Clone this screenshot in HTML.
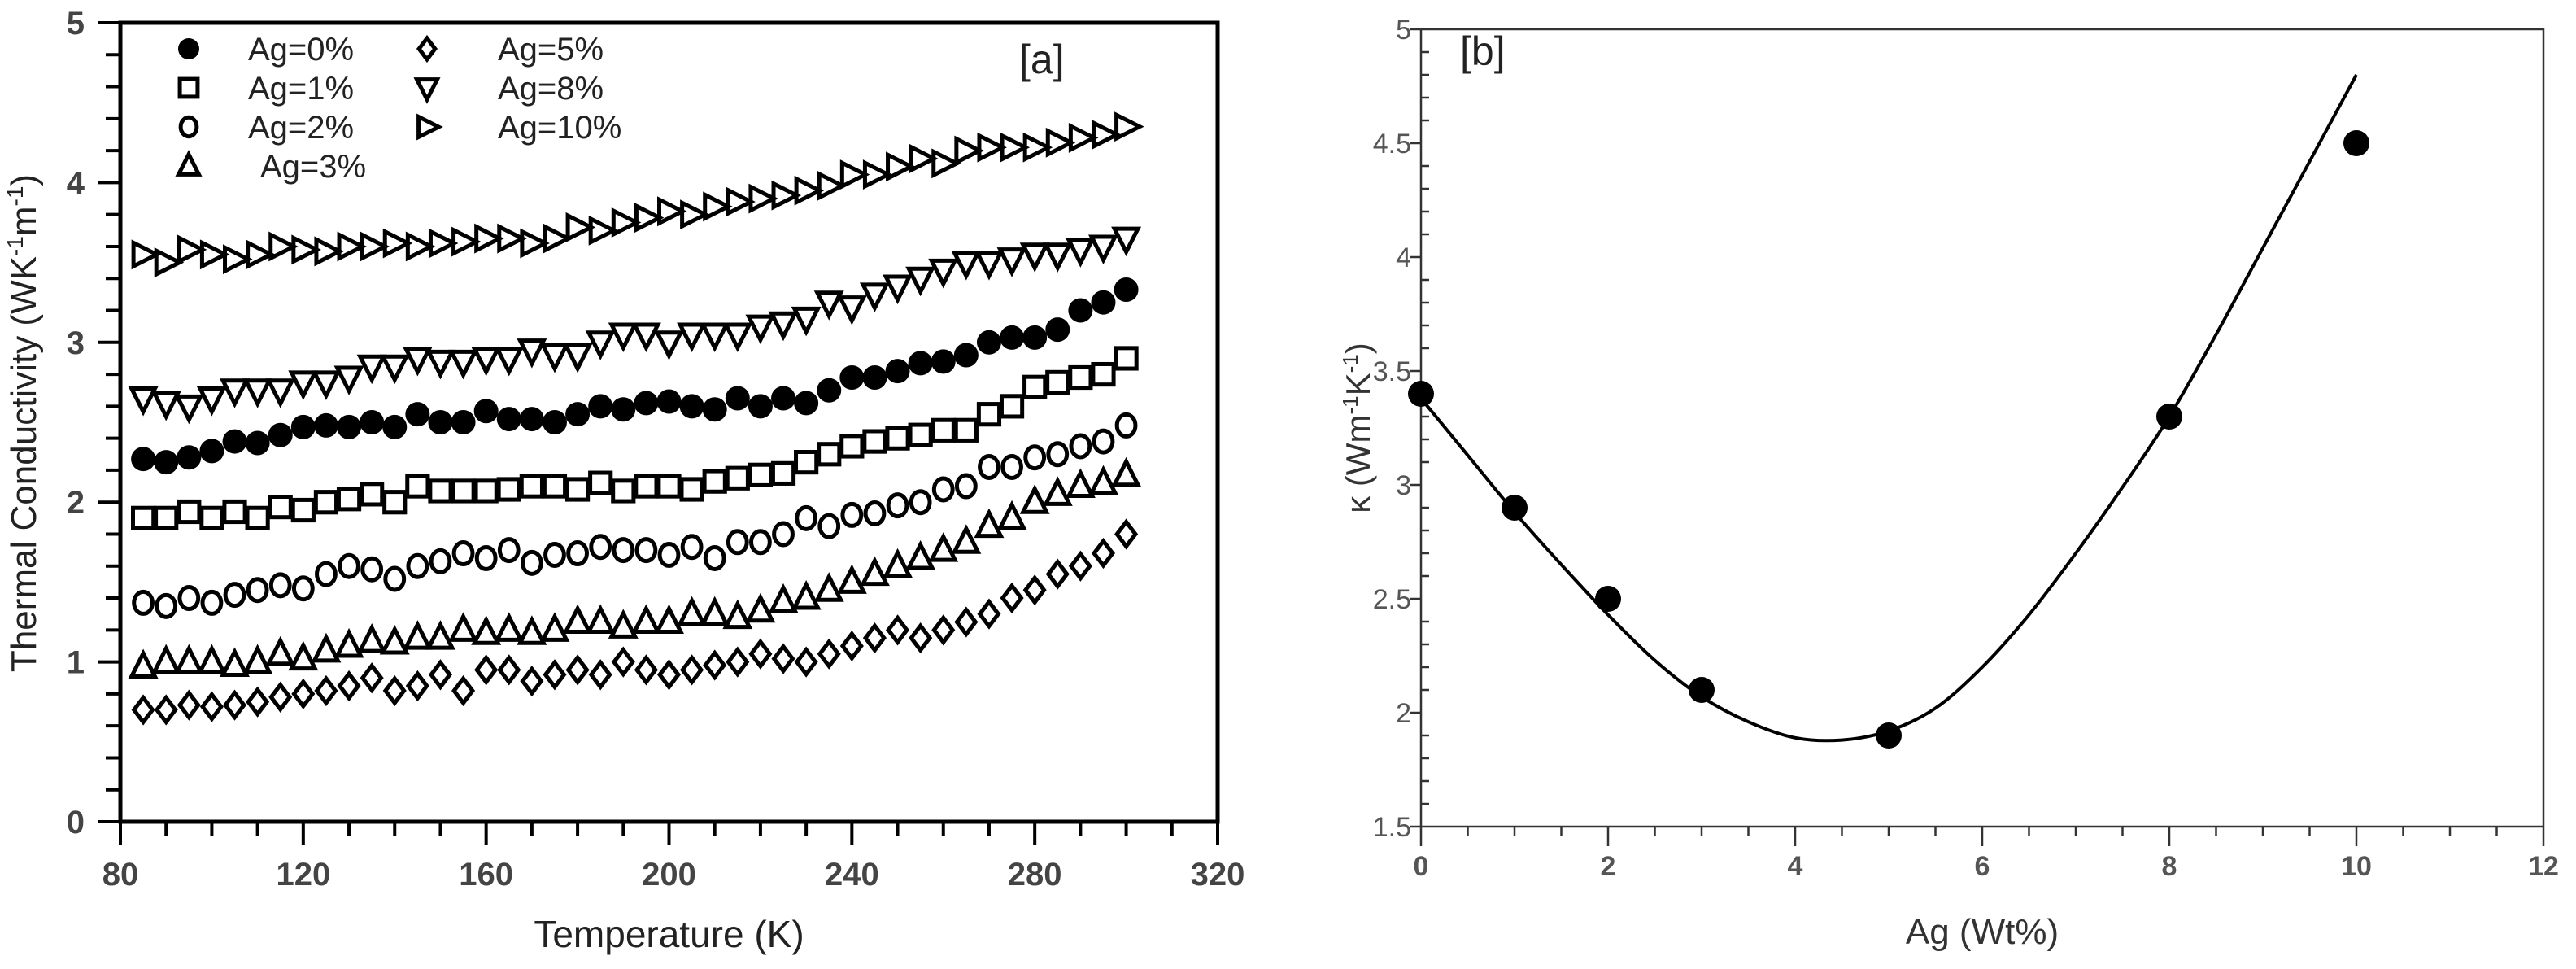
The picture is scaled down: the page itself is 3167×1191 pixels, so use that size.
<!DOCTYPE html>
<html><head><meta charset="utf-8"><style>
html,body{margin:0;padding:0;background:#fff}
svg{display:block}
text{font-family:"Liberation Sans","DejaVu Sans",sans-serif}
</style></head><body>
<svg id="root" width="3167" height="1191" viewBox="0 0 3167 1191" xmlns="http://www.w3.org/2000/svg">
<g id="pa"></g>
<g id="pb"></g>
</svg>
<script>
// ---- Panel A data ----
const tempStart = 85, tempStep = 5;
const ag0 = [2.27,2.25,2.28,2.32,2.38,2.37,2.42,2.47,2.48,2.47,2.5,2.47,2.55,2.5,2.5,2.57,2.52,2.52,2.5,2.55,2.6,2.58,2.62,2.63,2.6,2.58,2.65,2.6,2.65,2.62,2.7,2.78,2.78,2.82,2.87,2.88,2.92,3.0,3.03,3.03,3.08,3.2,3.25,3.33];
const ag1 = [1.9,1.9,1.94,1.9,1.94,1.9,1.97,1.95,2.0,2.02,2.05,2.0,2.1,2.07,2.07,2.07,2.08,2.1,2.1,2.08,2.12,2.07,2.1,2.1,2.08,2.13,2.15,2.17,2.18,2.25,2.3,2.35,2.38,2.4,2.42,2.45,2.45,2.55,2.6,2.72,2.75,2.78,2.8,2.9];
const ag2 = [1.37,1.35,1.4,1.37,1.42,1.45,1.48,1.46,1.55,1.6,1.58,1.52,1.6,1.63,1.68,1.65,1.7,1.62,1.67,1.68,1.72,1.7,1.7,1.67,1.72,1.65,1.75,1.75,1.8,1.9,1.85,1.92,1.93,1.98,2.0,2.08,2.1,2.22,2.22,2.28,2.3,2.35,2.38,2.48];
const ag3 = [0.97,1.0,1.0,1.0,0.98,1.0,1.05,1.02,1.07,1.1,1.13,1.12,1.15,1.15,1.2,1.18,1.2,1.18,1.2,1.25,1.25,1.22,1.25,1.25,1.3,1.3,1.28,1.32,1.38,1.4,1.45,1.5,1.55,1.6,1.65,1.7,1.75,1.85,1.9,2.0,2.05,2.1,2.12,2.17];
const ag5 = [0.7,0.7,0.73,0.72,0.73,0.75,0.78,0.8,0.82,0.85,0.9,0.82,0.85,0.92,0.82,0.95,0.95,0.88,0.92,0.95,0.92,1.0,0.95,0.92,0.95,0.98,1.0,1.05,1.02,1.0,1.05,1.1,1.15,1.2,1.15,1.2,1.25,1.3,1.4,1.45,1.55,1.6,1.68,1.8];
const ag8 = [2.65,2.62,2.6,2.65,2.7,2.7,2.7,2.75,2.75,2.78,2.85,2.85,2.9,2.88,2.88,2.9,2.9,2.95,2.92,2.92,3.0,3.05,3.05,3.0,3.05,3.05,3.05,3.1,3.12,3.15,3.25,3.22,3.3,3.35,3.4,3.45,3.5,3.5,3.52,3.55,3.55,3.58,3.6,3.65];
const ag10 = [3.55,3.5,3.58,3.55,3.52,3.55,3.6,3.58,3.57,3.6,3.6,3.62,3.6,3.62,3.63,3.65,3.65,3.62,3.65,3.72,3.7,3.75,3.78,3.82,3.8,3.85,3.88,3.9,3.92,3.95,3.98,4.05,4.05,4.1,4.15,4.12,4.2,4.22,4.22,4.22,4.25,4.28,4.3,4.35];
const xTicksA = [80,120,160,200,240,280,320];
const yTicksA = [0,1,2,3,4,5];
// ---- Panel B data ----
const agPct = [0,1,2,3,5,8,10];
const kappa = [3.4,2.9,2.5,2.1,1.9,3.3,4.5];
const fitX = [0,0.5,1,1.5,2,2.5,3,3.5,4,4.5,5,5.5,6,6.5,7,7.5,8,8.5,9,9.5,10];
const fitY = [3.38,3.13,2.88,2.65,2.43,2.23,2.07,1.96,1.89,1.88,1.92,2.02,2.2,2.43,2.7,2.99,3.3,3.66,4.04,4.42,4.8];
const xTicksB = [0,2,4,6,8,10,12];
const yTicksB = [1.5,2,2.5,3,3.5,4,4.5,5];

const NS="http://www.w3.org/2000/svg";
function mk(parent,tag,attrs,txt){const e=document.createElementNS(NS,tag);for(const k in attrs)e.setAttribute(k,attrs[k]);if(txt!==undefined)e.textContent=txt;parent.appendChild(e);return e;}

// ===== Panel A =====
const pa=document.getElementById('pa');
const AL=148,AR=1497,AT=28,AB=1010;
const xA=v=>AL+(v-80)/(320-80)*(AR-AL);
const yA=v=>AB-(v-0)/5*(AB-AT);
let fr=mk(pa,'rect',{x:AL,y:AT,width:AR-AL,height:AB-AT,fill:'none',stroke:'#000','stroke-width':5});


for(let t=80;t<=320;t+=10){
  const major=(t-80)%40===0;
  const l=mk(pa,'line',{x1:xA(t),x2:xA(t),y1:AB,y2:AB+(major?28:18),stroke:'#000','stroke-width':4});
  
  
}
xTicksA.forEach(t=>{const e=mk(pa,'text',{x:xA(t),y:1088,'text-anchor':'middle','font-size':40,'font-weight':'bold',fill:'#444'},String(t));
  
  });
for(let i=0;i<=25;i++){const v=i*0.2;const major=i%5===0;
  const l=mk(pa,'line',{x1:AL,x2:AL-(major?28:18),y1:yA(v),y2:yA(v),stroke:'#000','stroke-width':4});
  
  }
yTicksA.forEach(t=>{const e=mk(pa,'text',{x:104,y:yA(t)+14,'text-anchor':'end','font-size':40,'font-weight':'bold',fill:'#444'},String(t));
  
  });
let xt=mk(pa,'text',{x:(AL+AR)/2,y:1164,'text-anchor':'middle','font-size':46,fill:'#222'},'Temperature (K)');


let yt=mk(pa,'text',{x:0,y:0,'text-anchor':'middle','font-size':44,fill:'#222',transform:'translate(44,520) rotate(-90)'});
yt.innerHTML='Thermal Conductivity (WK<tspan dy="-16" font-size="28">-1</tspan><tspan dy="16">m</tspan><tspan dy="-16" font-size="28">-1</tspan><tspan dy="16">)</tspan>';


let la=mk(pa,'text',{x:1253,y:90,'font-size':50,fill:'#222'},'[a]');



function marker(g,type,cx,cy,s){
  const st={fill:'none',stroke:'#000','stroke-width':5};
  if(type==='circle') return mk(g,'circle',{cx,cy,r:s*0.5,fill:'#000'});
  if(type==='square') return mk(g,'rect',Object.assign({x:cx-s*0.42,y:cy-s*0.42,width:s*0.84,height:s*0.84},st));
  if(type==='ocircle') return mk(g,'ellipse',Object.assign({cx,cy,rx:s*0.38,ry:s*0.45},st));
  if(type==='up') return mk(g,'polygon',Object.assign({points:`${cx},${cy-s*0.55} ${cx+s*0.48},${cy+s*0.4} ${cx-s*0.48},${cy+s*0.4}`},st));
  if(type==='diamond') return mk(g,'polygon',Object.assign({points:`${cx},${cy-s*0.5} ${cx+s*0.38},${cy} ${cx},${cy+s*0.5} ${cx-s*0.38},${cy}`},st));
  if(type==='down') return mk(g,'polygon',Object.assign({points:`${cx},${cy+s*0.55} ${cx+s*0.48},${cy-s*0.4} ${cx-s*0.48},${cy-s*0.4}`},st));
  if(type==='right') return mk(g,'polygon',Object.assign({points:`${cx+s*0.55},${cy} ${cx-s*0.4},${cy+s*0.48} ${cx-s*0.4},${cy-s*0.48}`},st));
}
const seriesA=[[ag0,'circle','series-ag-0'],[ag1,'square','series-ag-1'],[ag2,'ocircle','series-ag-2'],[ag3,'up','series-ag-3'],[ag5,'diamond','series-ag-5'],[ag8,'down','series-ag-8'],[ag10,'right','series-ag-10']];
seriesA.forEach(([vals,type,name])=>{
  const g=mk(pa,'g',{});
  
  
  vals.forEach((v,i)=>{const m=marker(g,type,xA(tempStart+i*tempStep),yA(v),30);
    
    });
});
// legend
const lg=mk(pa,'g',{});


const legItems=[['circle','Ag=0%',232,305,60],['square','Ag=1%',232,305,108],['ocircle','Ag=2%',232,305,156],['up','Ag=3%',232,320,204],['diamond','Ag=5%',525,612,60],['down','Ag=8%',525,612,108],['right','Ag=10%',525,612,156]];
legItems.forEach(([type,lab,mx,tx,y])=>{
  const m=marker(lg,type,mx,y,26);
  
  
  const t=mk(lg,'text',{x:tx,y:y+14,'font-size':40,fill:'#222'},lab);
  
  
});

// ===== Panel B =====
const pb=document.getElementById('pb');
const BL=1747,BR=3127,BT=36,BB=1016;
const xB=v=>BL+v/12*(BR-BL);
const yB=v=>BB-(v-1.5)/3.5*(BB-BT);
let fb=mk(pb,'rect',{x:BL,y:BT,width:BR-BL,height:BB-BT,fill:'none',stroke:'#333','stroke-width':2.5});


for(let i=0;i<=24;i++){const v=i*0.5;const major=i%4===0;
  const l=mk(pb,'line',{x1:xB(v),x2:xB(v),y1:BB,y2:BB+(major?24:12),stroke:'#333','stroke-width':2.5});
  
  }
xTicksB.forEach(t=>{const e=mk(pb,'text',{x:xB(t),y:1076,'text-anchor':'middle','font-size':34,'font-weight':'bold',fill:'#555'},String(t));
  
  });
for(let i=0;i<=35;i++){const v=1.5+i*0.1;const major=i%5===0;
  const l=mk(pb,'line',{x1:BL-(major?14:0),x2:BL+(major?0:10),y1:yB(v),y2:yB(v),stroke:'#333','stroke-width':2.5});
  
  }
yTicksB.forEach(t=>{const e=mk(pb,'text',{x:1735,y:yB(t)+12,'text-anchor':'end','font-size':34,fill:'#555'},String(t));
  
  });
let xtb=mk(pb,'text',{x:(BL+BR)/2,y:1160,'text-anchor':'middle','font-size':44,fill:'#333'},'Ag (Wt%)');


let ytb=mk(pb,'text',{x:0,y:0,'text-anchor':'middle','font-size':42,fill:'#333',transform:'translate(1684,526) rotate(-90)'});
ytb.innerHTML='κ (Wm<tspan dy="-15" font-size="26">-1</tspan><tspan dy="15">K</tspan><tspan dy="-15" font-size="26">-1</tspan><tspan dy="15">)</tspan>';


let lb=mk(pb,'text',{x:1795,y:80,'font-size':50,fill:'#222'},'[b]');


// smooth Catmull-Rom path through fit points
const px=fitX.map(xB), py=fitY.map(yB);
let d='M'+px[0].toFixed(1)+','+py[0].toFixed(1);
for(let i=0;i<px.length-1;i++){
  const i0=Math.max(0,i-1), i3=Math.min(px.length-1,i+2);
  const c1x=px[i]+(px[i+1]-px[i0])/6, c1y=py[i]+(py[i+1]-py[i0])/6;
  const c2x=px[i+1]-(px[i3]-px[i])/6, c2y=py[i+1]-(py[i3]-py[i])/6;
  d+='C'+c1x.toFixed(1)+','+c1y.toFixed(1)+' '+c2x.toFixed(1)+','+c2y.toFixed(1)+' '+px[i+1].toFixed(1)+','+py[i+1].toFixed(1);
}
let fit=mk(pb,'path',{d,fill:'none',stroke:'#000','stroke-width':4,'stroke-linejoin':'round'});


agPct.forEach((v,i)=>{const c=mk(pb,'circle',{cx:xB(v),cy:yB(kappa[i]),r:16,fill:'#000'});
  
  });
</script>
</body></html>
